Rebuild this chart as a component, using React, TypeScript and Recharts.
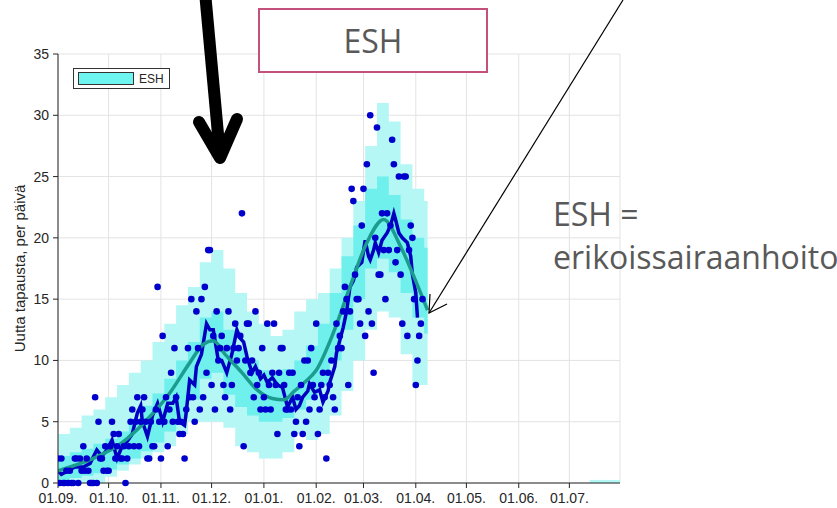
import {
  ComposedChart,
  Area,
  Line,
  Scatter,
  XAxis,
  YAxis,
  CartesianGrid,
  Legend,
} from "recharts";

// x = days since 01.09.
const monthTicks = [0, 30, 61, 91, 122, 153, 181, 212, 242, 273, 303];
const monthLabels = [
  "01.09.", "01.10.", "01.11.", "01.12.", "01.01.", "01.02.",
  "01.03.", "01.04.", "01.05.", "01.06.", "01.07.",
];
const yTicks = [0, 5, 10, 15, 20, 25, 30, 35];

// daily new cases (dots), day 0..216
const dailyCases = [
  2, 0, 2, 0, 0, 1, 0, 1, 0, 0,
  2, 2, 0, 2, 1, 3, 1, 2, 1, 0,
  0, 0, 7, 0, 5, 2, 2, 1, 3, 1,
  1, 3, 5, 4, 2, 3, 4, 2, 2, 3,
  0, 2, 3, 5, 6, 3, 5, 7, 3, 5,
  6, 7, 5, 2, 2, 5, 3, 3, 6, 16,
  5, 2, 12, 5, 7, 3, 6, 9, 5, 11,
  7, 5, 4, 5, 4, 2, 6, 11, 7, 15,
  7, 5, 14, 11, 6, 15, 7, 16, 9, 19,
  19, 8, 12, 6, 14, 10, 11, 12, 8, 7,
  11, 14, 6, 8, 11, 13, 10, 11, 12, 22,
  3, 10, 13, 13, 9, 10, 7, 14, 8, 9,
  6, 11, 7, 6, 13, 8, 6, 9, 13, 8,
  4, 9, 11, 11, 8, 6, 6, 9, 6, 9,
  4, 5, 7, 3, 8, 4, 10, 5, 10, 6,
  11, 8, 7, 13, 4, 6, 8, 9, 7, 2,
  9, 8, 10, 7, 6, 13, 11, 12, 11, 14,
  16, 15, 8, 14, 24, 23, 17, 15, 15, 13,
  21, 24, 12, 26, 14, 30, 13, 9, 20, 29,
  17, 17, 22, 19, 15, 22, 19, 21, 28, 26,
  18, 19, 25, 17, 13, 25, 25, 12, 19, 21,
  20, 15, 8, 10, 12, 13, 15,
];

// 7-day average (dark blue line)
const avgDays = [
  0, 2, 6, 10, 15, 19, 23, 26, 29, 32, 35, 38, 41, 44, 47, 49, 50, 53, 56, 59,
  62, 65, 68, 70, 72, 75, 76, 78, 81, 82, 85, 88, 90, 92, 95, 97, 100, 103, 106, 108,
  110, 112, 115, 117, 120, 122, 124, 127, 130, 133, 136, 139, 141, 143, 145, 148, 149, 152, 155, 157,
  160, 161, 164, 165, 169, 171, 173, 175, 177, 180, 182, 184, 185, 187, 188, 190, 192, 195, 197, 199,
  200, 202, 204, 207, 209, 210, 212, 213,
];
const avgVals = [
  1.0, 0.7, 1.0, 1.3, 1.3, 1.6, 2.7, 2.2, 2.7, 3.5, 2.0, 3.0, 3.4, 4.0, 5.7, 6.3, 5.0, 3.8, 5.5, 6.5,
  5.0, 6.5, 6.5, 7.0, 5.0, 4.7, 5.8, 8.4, 8.0, 9.5, 10.5, 13.0, 12.5, 12.5, 10.0, 10.0, 9.0, 10.5, 12.5, 11.8,
  11.5, 10.3, 9.0, 9.5, 8.5, 8.8, 8.2, 8.6, 8.0, 7.8, 6.2, 7.0, 6.0, 6.3, 7.0, 7.5, 8.1, 7.4, 7.6, 6.6,
  7.5, 8.2, 9.5, 10.6, 12.7, 14.0, 16.0, 16.5, 17.6, 18.0, 19.8, 18.5, 18.2, 19.0, 19.6, 18.8, 19.8, 20.4, 21.0, 22.0,
  21.5, 20.4, 20.0, 19.6, 18.5, 17.0, 15.5, 13.5,
];

// model fit (teal line)
const fitDays = [0, 19, 38, 53, 66, 78, 86, 92, 99, 109, 118, 127, 134, 140, 146, 153, 163, 173, 183, 193, 203, 211, 219];
const fitVals = [1.0, 1.9, 3.3, 5.2, 7.3, 9.8, 11.3, 11.6, 10.5, 9.0, 7.6, 6.9, 6.8, 7.5, 8.2, 9.2, 12.2, 16.0, 19.6, 21.5, 19.3, 16.8, 14.1];

// weekly uncertainty bands
const weekStarts = [
  0, 7, 14, 21, 28, 35, 42, 49, 56, 63, 70, 77, 84, 91, 98, 105, 112,
  119, 126, 133, 140, 147, 154, 161, 168, 175, 182, 189, 196, 203, 210, 217, 219,
];
const outerLow = [
  0, 0, 0, 0, 0.5, 1, 1.5, 2, 2.5, 3, 4, 5, 5, 5, 4.5, 3, 2.5,
  2, 2, 2.5, 4, 3.5, 4, 5.5, 7.5, 10, 12.5, 14, 13.5, 10.5, 8, 8, 8,
];
const outerHigh = [
  4, 4.5, 5.5, 6, 7, 8, 9, 10, 11.5, 13, 14.5, 16, 18, 19, 17.5, 15.5, 14,
  13, 12, 12.5, 14, 15, 15.5, 17.5, 20, 23, 27.5, 31, 29.5, 26, 24, 23, 23,
];
const innerLow = [
  0.2, 0.4, 0.6, 0.8, 1.1, 1.5, 2, 2.6, 3.3, 4.2, 5.3, 6.8, 8.5, 9, 7.2, 6.2, 5.5,
  5, 5, 5.3, 6, 6.8, 8, 10, 12.5, 15, 17.5, 18.3, 17.2, 15.5, 13.5, 12.2, 12.2,
];
const innerHigh = [
  2.2, 2.5, 2.8, 3.2, 3.6, 4.2, 5, 6.3, 7.3, 8.5, 10, 11.5, 13.5, 14, 12.5, 11, 10,
  9.2, 9, 9.3, 10, 11.2, 13, 15.5, 18.5, 21, 24, 25, 23.5, 21.5, 20, 19.2, 19.2,
];

// small flat band at the end of the axis
const tailDays = [315, 333];
const tailLow = [0, 0];
const tailHigh = [0.25, 0.25];

const dotRows = dailyCases.map((v, i) => ({ day: i, v }));
const avgRows = avgDays.map((d, i) => ({ day: d, v: avgVals[i] }));
const fitRows = fitDays.map((d, i) => ({ day: d, v: fitVals[i] }));
const bandRows = weekStarts.map((d, i) => ({
  day: d,
  outer: [outerLow[i], outerHigh[i]],
  inner: [innerLow[i], innerHigh[i]],
}));
const tailRows = tailDays.map((d, i) => ({ day: d, outer: [tailLow[i], tailHigh[i]] }));

const OUTER = "#b4f7f5";
const INNER = "#6ff0ec";
const AXIS = "#262626";
const GRAY_TEXT = "#595959";

const LegendBox = () => (
  <div
    style={{
      display: "flex",
      alignItems: "center",
      border: "1px solid #333",
      background: "#fff",
      padding: "3px 5px 3px 4px",
      fontSize: 12,
      color: AXIS,
      lineHeight: "12px",
    }}
  >
    <span
      style={{
        display: "inline-block",
        width: 54,
        height: 11,
        background: "#6ff5f0",
        border: "1px solid #333",
        marginRight: 5,
      }}
    />
    ESH
  </div>
);

const Overlay = () => (
  <svg
    width={837}
    height={508}
    style={{ position: "absolute", left: 0, top: 0, pointerEvents: "none" }}
  >
    {/* thick black arrow */}
    <line x1={205} y1={-8} x2={220} y2={156} stroke="#000" strokeWidth={12} strokeLinecap="round" />
    <polyline
      points="199,122 220,158 237,119"
      fill="none"
      stroke="#000"
      strokeWidth={12}
      strokeLinecap="round"
      strokeLinejoin="round"
    />
    {/* title box */}
    <rect x={259} y={9} width={228} height={63} fill="#fff" stroke="#c4507c" strokeWidth={2} />
    <text x={373} y={53} textAnchor="middle" fontFamily="'Open Sans', sans-serif" fontSize={32} fill={GRAY_TEXT}>
      ESH
    </text>
    {/* explanation */}
    <text x={553} y={226} fontFamily="'Open Sans', sans-serif" fontSize={32} fill={GRAY_TEXT}>
      ESH =
    </text>
    <text x={553} y={269} fontFamily="'Open Sans', sans-serif" fontSize={32} fill={GRAY_TEXT}>
      erikoissairaanhoito
    </text>
    {/* thin arrow */}
    <line x1={623} y1={0} x2={429} y2={313} stroke="#000" strokeWidth={1.2} />
    <polyline points="447,304 429,313 430,294" fill="none" stroke="#000" strokeWidth={1.2} />
  </svg>
);

export default function App() {
  return (
    <div
      style={{
        position: "fixed",
        left: 0,
        top: 0,
        width: 837,
        height: 508,
        background: "#fff",
        fontFamily: "'Liberation Sans', Arial, sans-serif",
      }}
    >
      <ComposedChart width={837} height={508} margin={{ top: 54, right: 217, bottom: 1, left: 18 }}>
        <CartesianGrid stroke="#e3e3e3" strokeWidth={1} />
        <XAxis
          dataKey="day"
          type="number"
          domain={[0, 333]}
          ticks={monthTicks}
          interval={0}
          tickFormatter={(d: number) => monthLabels[monthTicks.indexOf(d)] ?? ""}
          height={24}
          tickSize={5}
          tickMargin={5}
          stroke={AXIS}
          tick={{ fill: AXIS, fontSize: 14 }}
          allowDataOverflow
        />
        <YAxis
          type="number"
          domain={[0, 35]}
          ticks={yTicks}
          interval={0}
          width={40}
          tickSize={5}
          tickMargin={4}
          stroke={AXIS}
          tick={{ fill: AXIS, fontSize: 14 }}
          label={{
            value: "Uutta tapausta, per päivä",
            angle: -90,
            position: "center",
            dx: -18,
            fill: AXIS,
            fontSize: 15,
          }}
        />
        <Legend
          layout="horizontal"
          verticalAlign="middle"
          align="center"
          wrapperStyle={{ left: 73, top: 68, width: "auto", height: "auto" }}
          content={() => <LegendBox />}
        />
        <Area
          data={bandRows}
          dataKey="outer"
          type="stepAfter"
          fill={OUTER}
          fillOpacity={1}
          stroke="none"
          isAnimationActive={false}
        />
        <Area
          data={tailRows}
          dataKey="outer"
          type="stepAfter"
          fill={OUTER}
          fillOpacity={1}
          stroke="none"
          isAnimationActive={false}
        />
        <Area
          data={bandRows}
          dataKey="inner"
          type="stepAfter"
          fill={INNER}
          fillOpacity={1}
          stroke="none"
          isAnimationActive={false}
        />
        <Scatter
          data={dotRows}
          dataKey="v"
          isAnimationActive={false}
          shape={(p: any) => <circle cx={p.cx} cy={p.cy} r={3.3} fill="#0000cd" />}
        />
        <Line
          data={avgRows}
          dataKey="v"
          type="linear"
          stroke="#0000c0"
          strokeWidth={3.5}
          dot={false}
          isAnimationActive={false}
        />
        <Line
          data={fitRows}
          dataKey="v"
          type="monotone"
          stroke="#1b9c8e"
          strokeWidth={3.5}
          dot={false}
          isAnimationActive={false}
        />
      </ComposedChart>
      <Overlay />
    </div>
  );
}
